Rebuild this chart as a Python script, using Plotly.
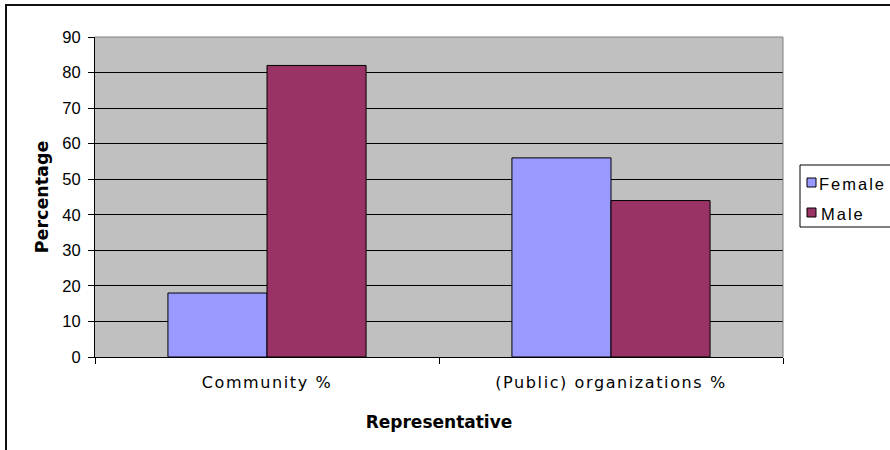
import plotly.graph_objects as go

# Chart data
categories = ["Community %", "(Public) organizations %"]
series_names = ["Female", "Male"]
female_values = [18, 56]
male_values = [82, 44]
series_colors = ["#9999FF", "#993366"]
y_tick_values = [0, 10, 20, 30, 40, 50, 60, 70, 80, 90]

# Page and plot-area geometry (pixels)
W, H = 890, 450
L, R, T, B = 95, 107, 37, 93
PW, PH = W - L - R, H - T - B


def px_x(p):
    """Pixel x -> paper x."""
    return (p - L) / PW


def px_y(p):
    """Pixel y -> paper y."""
    return (H - B - p) / PH


fig = go.Figure()
for name, values, color in zip(series_names, [female_values, male_values], series_colors):
    fig.add_trace(go.Bar(
        x=categories, y=values, name=name,
        marker=dict(color=color, line=dict(color="black", width=1)),
        showlegend=False,
    ))

fig.update_layout(
    width=W, height=H,
    margin=dict(l=L, r=R, t=T, b=B, pad=0),
    paper_bgcolor="white",
    plot_bgcolor="#C0C0C0",
    barmode="group", bargap=0.424, bargroupgap=0,
    showlegend=False,
)

fig.update_xaxes(
    type="category", tickson="boundaries",
    ticks="outside", ticklen=6, tickwidth=1, tickcolor="black",
    showline=True, linecolor="black", linewidth=1,
    showgrid=False, zeroline=False,
    tickfont=dict(family="DejaVu Sans", size=16, color="black"),
    ticklabelstandoff=11,
    title=dict(text="Representative", standoff=24,
               font=dict(family="DejaVu Sans", size=17, color="black", weight="bold")),
    automargin=False,
)

fig.update_yaxes(
    range=[0, 90], tickvals=y_tick_values,
    ticks="outside", ticklen=6, tickwidth=1, tickcolor="black",
    showline=True, linecolor="black", linewidth=1,
    showgrid=True, gridcolor="black", gridwidth=1, zeroline=False,
    tickfont=dict(family="Liberation Sans, Arial", size=16.5, color="black"),
    ticklabelstandoff=4,
    title=dict(text="Percentage", standoff=9,
               font=dict(family="DejaVu Sans", size=17.5, color="black", weight="bold")),
    automargin=False,
)

shapes = []
# Gray border on top and right of the plot area
shapes.append(dict(type="line", xref="paper", yref="paper", x0=0, x1=1, y0=1, y1=1,
                   line=dict(color="#808080", width=1), layer="above"))
shapes.append(dict(type="line", xref="paper", yref="paper", x0=1, x1=1, y0=0, y1=1,
                   line=dict(color="#808080", width=1), layer="above"))
# Outer chart-area frame
shapes.append(dict(type="rect", xref="paper", yref="paper",
                   x0=px_x(6), x1=px_x(W + 20), y0=px_y(H + 20), y1=px_y(5),
                   line=dict(color="#111111", width=2), fillcolor="rgba(0,0,0,0)", layer="above"))
# Legend box
shapes.append(dict(type="rect", xref="paper", yref="paper",
                   x0=px_x(800), x1=px_x(W + 15), y0=px_y(227), y1=px_y(165),
                   line=dict(color="black", width=1), fillcolor="white", layer="above"))

annotations = []
legend_rows = [182.5, 212.5]
for name, color, cy in zip(series_names, series_colors, legend_rows):
    shapes.append(dict(type="rect", xref="paper", yref="paper",
                       x0=px_x(807), x1=px_x(816), y0=px_y(cy + 4.5), y1=px_y(cy - 4.5),
                       line=dict(color="black", width=1), fillcolor=color, layer="above"))
    annotations.append(dict(xref="paper", yref="paper", x=px_x(823), y=px_y(cy + 1),
                            xanchor="left", yanchor="middle", showarrow=False, text=name,
                            font=dict(family="Liberation Sans, Arial", size=16.5, color="black")))

fig.update_layout(shapes=shapes, annotations=annotations)

# Wider character spacing on category labels and legend labels
spacing_js = """
var gd = document.getElementById('{plot_id}');
gd.querySelectorAll('.xtick text').forEach(function (t) { t.style.letterSpacing = '1.6px'; });
gd.querySelectorAll('.annotation-text').forEach(function (t) { t.style.letterSpacing = '2px'; });
"""

fig.write_html("out.html", post_script=spacing_js)
